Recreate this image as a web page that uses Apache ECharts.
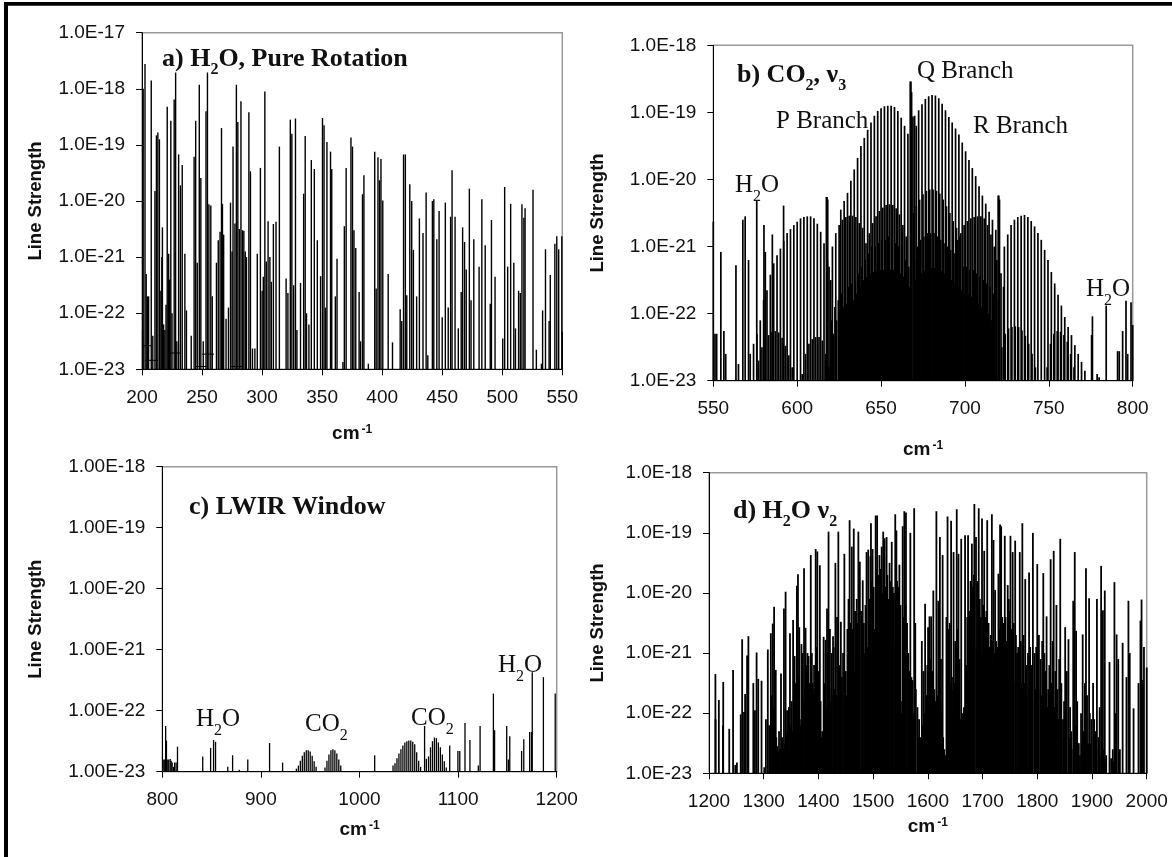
<!DOCTYPE html>
<html>
<head>
<meta charset="utf-8">
<title>Line strengths</title>
<style>
  html, body { margin: 0; padding: 0; background: #fff; }
  #chart { width: 1172px; height: 857px; }
</style>
<script src="https://cdn.jsdelivr.net/npm/echarts@6/dist/echarts.min.js"></script>
</head>
<body>
<div id="chart"></div>
<script>
// every line is [wavenumber cm-1, log10 of line strength]
var rotationLines = [
  [200.5,-22.3],[201,-18],[202.5,-17.56],[203.5,-21.3],[204.5,-21.7],[205.5,-21.7],[207.7,-17.85],[209,-22.4],[210.8,-19.82],[212,-18.83],[213.2,-18.78],[214.5,-18.9],[215.7,-21.6],[216.5,-21],[217,-20.47],[218,-22.2],[219,-22.3],[220,-21.85],[221,-18.32],[222.2,-20.94],[223,-21.4],[224,-18.57],[225,-22],[226.8,-18.19],[228,-17.71],[229,-22.5],[230.5,-19.17],[232,-19.72],[233.5,-19.36],[235.7,-20.94],[237,-21.95],
  [241,-22.4],[243.4,-19.21],[244.7,-18.57],[246,-21.1],[247.7,-17.93],[249,-19.59],[251,-22.5],[253.3,-18.4],[254.5,-17.71],[255.7,-20.06],[257.3,-20.08],[258.5,-21.7],
  [262,-21.1],[263.5,-20.7],[265,-20.55],[266.2,-18.7],[267,-20.05],[268,-20.6],[270,-22.1],[272,-21.9],[273.7,-20.03],[275,-20.9],[275.8,-19.03],[277.4,-20.4],[278.6,-17.93],[279.8,-18.59],[281,-20.5],[282.4,-18.22],[283.6,-20.52],[284.8,-20.53],[286,-20.9],[287,-21],[289,-18.42],[290.3,-19.47],[292,-22.63],[294,-22.63],[296,-20.94],
  [298.6,-19.41],[300,-21.6],[301,-21.35],[302.3,-18.05],[303.5,-21.08],[305,-20.36],[306.5,-21],[307.7,-21.44],[309.4,-20.41],[311.6,-20.37],[314.4,-19.03],[320,-21.38],[321.5,-21.64],[323.5,-18.55],[324.8,-18.8],[326.3,-21.5],[327.8,-18.53],[329,-22.3],[332,-21.46],[334.6,-19.87],[335.9,-18.84],[337,-22],[339,-22.2],[341,-19.27],[343.5,-19.43],[346,-20.7],[348.7,-21.34],[350.3,-18.52],[351.6,-18.65],[352.8,-21.9],[354,-18.95],[357,-19.12],[358,-19.43],[361,-21.7],[362.4,-21.03],
  [367.3,-22.87],[368.5,-20.45],[370,-19.41],[374,-18.87],[375.3,-19.03],[376.5,-20.52],[378,-20.84],[380.8,-21.62],[382,-22.5],[383.6,-19.88],[384.8,-19.54],[388.5,-22.9],[393.8,-19.12],[395,-21.56],[396.5,-19.22],[397.8,-19.63],[399,-19.25],[400.5,-19.99],[405,-21.3],[408.6,-22.52],
  [415,-21.93],[416.3,-22.14],[417.8,-19.17],[419.3,-19.17],[420.5,-21.68],[423,-19.7],[424.6,-20],[426,-20.87],[428.7,-21.7],[431,-20.31],[434,-20.57],[436.6,-19.85],[438,-22.75],[441.8,-20],[443,-19.97],[445.5,-20.68],[447.4,-20.18],[450,-22.07],[452.6,-20.03],[455,-21.9],[457,-20.28],[458.2,-19.45],[460.7,-20.28],[463.4,-22.27],[465.8,-21.62],[467,-20.47],[468.6,-20.73],[470,-21.22],[472.6,-19.78],[474,-21.77],[476.3,-20.68],[480.7,-21.17],[483,-19.97],[485.8,-20.79],[490,-21.83],[491,-20.34],[494,-21.35],
  [500.4,-22.45],[502,-19.75],[504.5,-21.17],[507,-20.05],[509.6,-21.1],[511,-22.27],[513.6,-21.6],[515,-21.64],[516.4,-20.06],[518,-20.3],[519,-20.13],[525.6,-19.8],[528.4,-22.65],[532.6,-22.9],[533.6,-21.95],[536,-20.86],[539,-22.14],[540,-21.32],[543.8,-20.76],[545.4,-20.63],[547,-20.86],[549.6,-20.63],[550,-22.33]
];
var rotationDashes = [
  [200.6,207.7,-22.58],[203,213.2,-22.84],[223,232.3,-22.71],[250,260,-22.73],[244.7,254,-22.95],[274,284.7,-22.95]
];
var co2Lines = [
  // isolated water lines
  [550,-20.63],[551,-22.3],[552,-22.3],[554.5,-21.08],[556.3,-22.26],[557.4,-22.6],[563.5,-21.28],[565,-22.75],[567.6,-20.6],[569,-20.55],[571,-21.2],[575.9,-20.31],[580.2,-20.68],[581,-21.08],[585.2,-20.82],[591.9,-20.39],
  [776,-22.04],[775.5,-22.32],[778.8,-22.9],[780,-22.95],[784.2,-21.88],[791,-22.56],[792,-22.56],[794,-22.26],[796,-21.81],[797,-22.6],[799,-21.83],[800,-22.17],
  // 606 hump
  [572,-22.6],[574,-22.45],[576,-22.3],[578,-22.1],[580,-21.8],[582,-21.65],[584,-21.42],[586,-21.25],[588,-21.13],[590,-21.03],[592,-20.92],[594,-20.8],[596,-20.74],[598,-20.68],[600,-20.63],[602,-20.58],[604,-20.56],[606,-20.55],[608,-20.55],[610,-20.58],[612,-20.66],[614,-20.78],[616,-20.95],[618,-21.2],[620,-21.5],
  [617.4,-20.26],[617.8,-20.26],[618.2,-20.3],
  // low humps on the left
  [577,-22.7],[579,-22.5],[581,-22.4],[583,-22.32],[585,-22.27],[587,-22.26],[589,-22.28],[591,-22.36],[593,-22.48],[595,-22.62],[597,-22.8],
  [603,-22.9],[605,-22.6],[607,-22.45],[609,-22.38],[611,-22.35],[613,-22.35],[615,-22.4],[617,-22.6],[619,-22.8],
  // main band, P, Q, R
  [626,-20.45],[628,-20.32],[630,-20.2],[632,-20.02],[634,-19.85],[636,-19.68],[638,-19.5],[640,-19.38],[642,-19.26],[644,-19.15],[646,-19.05],[648,-18.98],[650,-18.94],[652,-18.91],[654,-18.9],[656,-18.9],[658,-18.92],[660,-18.98],[662,-19.08],[664,-19.2],[666,-19.32],
  [667.4,-18.54],[667.8,-18.54],[668.2,-18.7],[669,-19.06],[670,-19.05],[671,-19.2],
  [672.4,-18.97],[674.4,-18.88],[676.4,-18.8],[678.4,-18.76],[680.4,-18.74],[682.4,-18.75],[684.4,-18.79],[686.4,-18.87],[688.4,-18.97],[690.4,-19.07],[692.4,-19.15],[694.4,-19.24],[696.4,-19.33],[698.4,-19.45],[700.4,-19.58],[702.4,-19.71],[704.4,-19.83],[706.4,-19.95],[708.4,-20.1],[710.4,-20.24],[712.4,-20.36],[714.4,-20.48],[716.4,-20.6],[718.4,-20.75],
  // hot bands
  [619,-21.3],[621,-21],[623,-20.8],[625,-20.68],[627,-20.6],[629,-20.56],[631,-20.54],[633,-20.54],[635,-20.56],[637,-20.65],[639,-20.72],
  [641,-20.95],[643,-20.8],[645,-20.65],[647,-20.55],[649,-20.47],[651,-20.42],[653,-20.38],[655,-20.37],[657,-20.38],[659,-20.43],[661,-20.52],[663,-20.68],[665,-20.85],
  [669.5,-20.5],[671,-20.4],[673,-20.3],[675,-20.22],[677,-20.17],[679,-20.15],[681,-20.15],[683,-20.17],[685,-20.21],[687,-20.3],[689,-20.4],[691,-20.5],[693,-20.62],[695,-20.72],[697,-20.85],
  [695.5,-20.9],[697.5,-20.8],[699.5,-20.68],[701.5,-20.62],[703.5,-20.58],[705.5,-20.56],[707.5,-20.55],[709.5,-20.55],[711.5,-20.58],[713.5,-20.68],[715.5,-20.82],[717.5,-21],[719,-21.2],[721.5,-21.4],[723,-21.6],
  [719.8,-20.24],[720.2,-20.24],[720.6,-20.3],
  [723.5,-21],[725.5,-20.82],[727.5,-20.68],[729.5,-20.6],[731.5,-20.56],[733.5,-20.54],[735.5,-20.53],[737.5,-20.56],[739.5,-20.62],[741.5,-20.7],[743.5,-20.8],[745.5,-20.9],[747.5,-21.05],[749.5,-21.2],[751.5,-21.38],[753.5,-21.55],[755.5,-21.72],[757.5,-21.88],[759.5,-22.05],[761.5,-22.2],[763.5,-22.32],[765.5,-22.47],[767.5,-22.6],[769.5,-22.72],[771.5,-22.85],
  // low humps on the right
  [722,-22.5],[724,-22.3],[726,-22.22],[728,-22.2],[730,-22.19],[732,-22.2],[734,-22.25],[736,-22.33],[738,-22.45],[740,-22.6],[742,-22.8],
  [749,-22.8],[751,-22.45],[753,-22.3],[755,-22.26],[757,-22.27],[759,-22.32],[761,-22.42],[763,-22.6],[765,-22.8],
  // solid block under the band
  [620.5,-22.1],[622.5,-21.9],[624.5,-21.8],[626.5,-21.7],[628.5,-21.6],[630.5,-21.6],[632.5,-21.55],[634.5,-21.5],[636.5,-21.4],[638.5,-21.3],[640.5,-21.2],[642.5,-21.1],[644.5,-21],[646.5,-21],[648.5,-20.95],[650.5,-20.9],[652.5,-20.9],[654.5,-20.85],[656.5,-20.9],[658.5,-20.95],[660.5,-21],[662.5,-21.1],[664.5,-21.2],[666.5,-21.3],[669.9,-21.2],[671.7,-21],[673.5,-20.9],[675.5,-20.85],[677.5,-20.8],[679.5,-20.8],[681.5,-20.8],[683.5,-20.85],[685.5,-20.9],[687.5,-20.95],[689.5,-21],[691.5,-21.05],[693.5,-21.1],[695,-21.2],[696.9,-21.25],[698.9,-21.3],[700.9,-21.3],[702.9,-21.35],[704.9,-21.35],[706.9,-21.4],[708.9,-21.45],[710.9,-21.5],[712.9,-21.55],[714.9,-21.6],[716.9,-21.7],[718.9,-21.8],
  [621.5,-22.3],[623.5,-22.1],[625.5,-22],[627.5,-21.9],[629.5,-21.85],[631.5,-21.8],[633.5,-21.8],[635.5,-21.7],[637.5,-21.6],[639.5,-21.5],[641.5,-21.45],[643.5,-21.4],[645.5,-21.38],[647.5,-21.36],[649.5,-21.35],[651.5,-21.35],[653.5,-21.35],[655.5,-21.35],[657.5,-21.35],[659.5,-21.36],[661.5,-21.4],[663.5,-21.45],[665.5,-21.5],[667,-21.6],[670.5,-21.5],[672,-21.45],[674,-21.4],[676,-21.36],[678,-21.34],[680,-21.32],[682,-21.32],[684,-21.34],[686,-21.36],[688,-21.4],[690,-21.45],[692,-21.5],[694,-21.55],[696,-21.6],[698,-21.65],[700,-21.7],[702,-21.72],[704,-21.75],[706,-21.8],[708,-21.85],[710,-21.9],[712,-21.95],[714,-22],[716,-22.1],[718,-22.2]
];
var windowLines = [
  [801.5,-22.8],[802.5,-22.8],[803.4,-22.25],[804.2,-22.49],[805,-22.8],[806.5,-22.8],[808,-22.79],[809,-22.82],[810,-22.85],[811.5,-22.92],[812.5,-22.85],[814,-22.85],[815.4,-22.59],
  [841,-22.75],[849,-22.61],[852,-22.48],[854,-22.51],[866.4,-22.92],[871.3,-22.73],[878,-22.97],[886.7,-22.8],[908.8,-22.53],[922,-22.85],
  [936,-22.95],[938,-22.9],[940,-22.82],[942,-22.74],[944,-22.68],[946,-22.65],[948,-22.65],[950,-22.67],[952,-22.74],[954,-22.83],[956,-22.92],
  [965,-22.93],[967,-22.82],[969,-22.72],[971,-22.65],[973,-22.63],[975,-22.65],[977,-22.7],[979,-22.8],[981,-22.9],
  [1015.4,-22.73],
  [1034,-22.9],[1036,-22.86],[1038,-22.78],[1040,-22.7],[1042,-22.63],[1044,-22.57],[1046,-22.52],[1048,-22.5],[1050,-22.49],[1052,-22.49],[1054,-22.51],[1056,-22.55],[1058,-22.68],[1060,-22.82],[1062,-22.92],
  [1066,-22.25],[1067.8,-22.79],
  [1070,-22.75],[1072,-22.6],[1074,-22.5],[1076,-22.44],[1078,-22.45],[1080,-22.52],[1082,-22.6],[1084,-22.72],[1086,-22.83],[1088,-22.93],
  [1091.5,-22.57],[1099.8,-22.66],[1101.7,-22.66],[1107,-22.2],[1112,-22.48],[1120.5,-22.9],[1122.3,-22.25],[1135.8,-21.72],[1137,-22.32],[1149.3,-22.25],[1151,-22.8],[1152.4,-22.42],[1164.4,-22.66],[1166.6,-22.47],[1172.6,-22.35],[1174.5,-22.35],[1175.2,-21.37],[1186.5,-21.45],[1198.5,-21.72]
];
var bendLines = [
  // tall lines
  [1211.7,-21.35],[1212,-22.1],[1218,-21.78],[1226,-21.48],[1225.5,-22.2],[1237,-22.26],[1244,-21.28],[1248,-22.86],[1251,-22.82],
  [1258,-22.02],[1260.6,-20.77],[1264,-21.98],[1266,-21.68],[1269.6,-21.04],[1272,-20.72],[1281,-21.5],[1284,-21.95],[1287,-20.99],[1290,-21.43],[1296,-21.46],
  [1304,-22.1],[1307.5,-20.94],[1313,-20.67],[1316.5,-20.51],[1319,-20.23],[1322,-21.28],[1328,-22.3],[1331.6,-21.34],[1337,-20.26],[1340,-19.98],[1342.7,-21.95],[1348,-20.67],[1353.7,-20.45],[1356.5,-21.05],[1360.6,-19.88],[1362.6,-19.69],[1365,-20.57],[1369,-20.85],[1373.7,-19.59],[1376.5,-20.58],[1382,-21.05],[1386,-19.37],[1389.5,-21.5],[1395,-19.27],[1398,-19.31],[1402.6,-19.54],[1409.5,-20.73],[1413,-20.78],[1415.7,-20.26],[1418.5,-18.98],[1426.7,-20.72],[1431,-19.5],[1436.4,-18.98],[1441,-20.48],[1447.4,-19.35],[1457,-18.79],[1461,-19.23],[1464.6,-18.93],[1470,-20.1],[1473,-18.98],[1475.7,-19.48],[1481,-19.79],[1488,-19.32],[1491,-19.28],[1495,-19.39],[1499,-19.27],[1496,-18.84],[1504.6,-18.71],[1507.3,-18.71],[1511.5,-19.37],[1515.6,-19.23],[1518.4,-18.98],[1521,-19.09],[1524.6,-19.07],[1530,-19.5],[1534,-19.15],[1540.4,-18.69],[1542.5,-18.96],[1548,-19.53],[1554,-18.89],[1557,-18.64],[1560,-18.66],[1568,-19],[1575,-18.59],[1577,-20.5],
  [1589,-20.8],[1595,-20.18],[1600.4,-20.57],[1603,-20.39],[1606,-20.39],[1610,-19.96],[1615.6,-18.64],[1622,-19.07],[1619,-20.13],[1627,-19.37],[1636,-18.73],[1642.5,-18.8],[1647,-19.32],[1652.8,-18.61],[1656,-19.35],[1661,-19.1],[1668,-19.04],[1673.5,-19.04],[1680.5,-19.18],[1685,-18.52],[1688,-19.07],[1693,-18.59],[1699,-18.76],[1703,-19.3],[1708.5,-18.79],[1717,-18.69],[1720,-19.12],[1723,-19.95],[1729,-19.68],[1732,-18.86],[1734,-18.89],[1740.6,-19.05],[1746,-19.87],[1751,-19.05],[1755,-19.32],[1759.6,-19.13],[1768,-19.32],[1772.7,-18.84],[1778,-19.77],[1785,-19.66],[1792,-19],[1800,-19.52],[1811,-19.67],[1817,-20.39],[1824.4,-19.44],[1830,-19.3],[1835,-20.2],[1842,-19.1],[1851,-20.57],[1857,-20.77],[1865.7,-20.13],[1868.5,-19.32],[1871,-20.63],[1883,-20.69],[1889,-19.59],[1894.7,-20.09],[1909,-20.1],[1916.7,-19.55],[1920,-20.29],[1923.4,-19.96],[1932,-21.15],[1941,-19.82],[1945,-20.69],[1956,-20.83],[1966.6,-20.13],[1976,-21.92],[1988.6,-20.46],[1990.6,-20.11],[1993,-21.45],[2000,-21.24],
  // shorter lines filling the band
  [1301,-22.9],[1310,-22.2],[1315,-21.7],[1318,-21.9],[1321,-22.5],[1325,-22.55],[1330,-22.6],[1334,-22.4],[1339,-22.5],[1344,-22.3],[1346,-21.9],[1351,-21.8],[1355,-22.1],[1358,-21.5],[1364,-21.4],[1367,-22.2],[1371,-21],[1375,-21.6],[1378,-21.2],[1380,-21],[1384,-21.5],[1388,-21],[1392,-21.2],[1396,-20.9],[1400,-21.3],[1404,-21.8],[1407,-22.3],[1411,-21.5],[1417,-21],[1421,-20.6],[1424,-21],[1428,-20.9],[1434,-20.4],[1438,-21.2],[1443,-21.4],[1445,-21],[1450,-21.3],[1453,-20.6],[1455,-20.1],[1459,-20.5],[1463,-20.6],[1467,-20.3],[1472,-20.5],[1478,-20.3],[1483,-20.5],[1486,-20.2],[1493,-20.1],[1498,-19.8],[1501,-19.9],[1506,-19.6],[1509,-19.7],[1513,-19.6],[1517,-20],[1520,-19.8],[1523,-19.9],[1526,-19.7],[1528,-20.1],[1532,-19.8],[1536,-19.9],[1538,-20],[1544,-19.8],[1546,-19.9],[1550,-20.2],[1552,-22],[1556,-20.4],[1559,-20.2],[1562,-20.5],[1564,-21],[1566,-21.3],[1570,-21.4],[1572,-21.45],[1578,-21.6],[1581,-21.9],[1584,-22.1],[1587,-22.4],[1592,-21.3],[1594,-22],[1597,-21.7],[1599,-21.2],[1602,-21],[1605,-21.1],[1608,-21.3],[1612,-21.6],[1614,-21.8],[1617,-21.7],[1620,-21.4],[1624,-21.1],[1626,-22],[1630,-22.6],[1634,-20.4],[1638,-20.6],[1640,-20.5],[1644,-21.6],[1646,-21.4],[1650,-20.8],[1654,-20.6],[1658,-21.1],[1660,-22.1],[1664,-22],[1666,-21.9],[1670,-21.2],[1672,-20.4],[1676,-20.3],[1678,-19.8],[1682,-19.9],[1684,-19.7],[1690,-19.8],[1695,-20.1],[1697,-20.4],[1701,-20.2],[1705,-20.4],[1707,-20.3],[1711,-20.5],[1713,-20.9],[1715,-20.7],[1719,-20.8],[1722,-21],[1725,-20.8],[1727,-20.9],[1731,-20.6],[1736,-20.4],[1738,-20.5],[1742,-20.4],[1744,-20.8],[1748,-20.1],[1750,-20.3],[1753,-20.6],[1757,-20.5],[1761,-20.7],[1763,-21],[1765,-20.9],[1770,-20.8],[1775,-20.7],[1780,-21.2],[1783,-21],[1787,-20.9],[1790,-21.2],[1795,-21],[1798,-20.9],[1803,-20.7],[1806,-21.1],[1809,-20.8],[1813,-21],[1815,-21.3],[1820,-21.6],[1822,-21.2],[1826,-21.5],[1828,-20.8],[1833,-21.3],[1837,-21.6],[1840,-21.1],[1844,-21.5],[1847,-22.1],[1849,-21.8],[1854,-21.3],[1860,-21.9],[1862,-22.3],[1867,-21.1],[1873,-21.8],[1876,-22.5],[1880,-22],[1885,-22.3],[1887,-21.5],[1891,-21.7],[1896,-22],[1899,-22.1],[1902,-21.5],[1904,-22.1],[1906,-22.3],[1912,-22.4],[1914,-21.9],[1918,-22.5],[1922,-22.6],[1926,-22.7],[1935,-22.75],[1938,-22.6],[1943,-22],[1948,-21.1],[1951,-22.6],[1963,-21.4],[1969,-21],[1985,-21.5],[1995,-20.9],
  // low block near the baseline
  [1312,-22.7],[1323,-22.4],[1327,-22.65],[1333,-22.5],[1336,-22.6],[1341,-22.35],[1349,-22.2],[1352,-22.3],[1360,-21.9],[1366,-22.1],[1370,-21.9],[1374,-21.8],[1377,-21.9],[1383,-21.7],[1387,-21.9],[1391,-21.6],[1394,-21.7],[1399,-21.8],[1403,-22],[1406,-22.4],[1410,-22],[1414,-21.9],[1420,-21.6],[1423,-21.8],[1427,-21.7],[1430,-21.6],[1433,-21.7],[1437,-21.7],[1440,-21.8],[1442,-21.7],[1448,-21.8],[1451,-21.7],[1456,-21.3],[1460,-21.4],[1465,-21.3],[1469,-21.1],[1471,-21.3],[1475,-21.1],[1480,-21],[1485,-21],[1490,-20.9],[1494,-20.8],[1503,-20.6],[1510,-20.7],[1515,-20.6],[1519,-20.7],[1525,-20.6],[1529,-20.7],[1533,-20.8],[1537,-20.8],[1541,-20.8],[1547,-20.9],[1553,-21.8],[1558,-21.1],[1565,-21.9],[1574,-22],[1583,-22.4],[1591,-22.2],[1596,-22.1],[1601,-21.9],[1607,-21.8],[1611,-22.1],[1616,-22.2],[1623,-21.8],[1628,-22.4],[1632,-22.7],[1637,-21.6],[1641,-21.5],[1645,-22],[1649,-21.5],[1655,-21.4],[1659,-22.3],[1663,-22.3],[1667,-22.1],[1671,-21.7],[1675,-21.4],[1679,-21],[1683,-20.8],[1689,-20.9],[1694,-21],[1698,-21],[1702,-21.1],[1706,-21.1],[1710,-21.2],[1714,-21.3],[1718,-21.3],[1724,-21.4],[1728,-21.4],[1733,-21.5],[1737,-21.3],[1741,-21.4],[1747,-21.2],[1752,-21.3],[1756,-21.4],[1760,-21.5],[1766,-21.6],[1771,-21.5],[1776,-21.5],[1781,-21.7],[1786,-21.6],[1791,-21.8],[1796,-21.6],[1802,-21.6],[1807,-21.7],[1812,-21.7],[1818,-21.9],[1823,-22],[1827,-22],[1832,-21.9],[1838,-22.1],[1843,-22.1],[1848,-22.4],[1853,-22.1],[1858,-22.4],[1863,-22.6],[1869,-22.2],[1874,-22.5],[1878,-22.7],[1882,-22.5],[1888,-22.4],[1893,-22.5],[1898,-22.5],[1903,-22.4],[1908,-22.6],[1913,-22.7],[1917,-22.7],[1921,-22.7],[1925,-22.8],[1940,-22.8],[1944,-22.7]
];

var tickFontFamily = 'Liberation Sans';
var serifFontFamily = 'Liberation Serif';

function makeRenderLine(width) {
  return function (params, api) {
    var bottom = api.coord([api.value(0), -23]);
    var top = api.coord([api.value(0), api.value(1)]);
    return {
      type: 'line',
      shape: { x1: bottom[0], y1: bottom[1], x2: top[0], y2: top[1] },
      style: { stroke: '#000', lineWidth: width }
    };
  };
}

function renderDash(params, api) {
  var left = api.coord([api.value(0), api.value(2)]);
  var right = api.coord([api.value(1), api.value(2)]);
  return {
    type: 'line',
    shape: { x1: left[0], y1: left[1], x2: right[0], y2: right[1] },
    style: { stroke: '#000', lineWidth: 1 }
  };
}

function makeGrid(left, top, right, bottom) {
  return {
    left: left, top: top, width: right - left, height: bottom - top,
    show: true, borderColor: '#999', borderWidth: 1.5, backgroundColor: '#fff'
  };
}

function makeXAxis(i, min, max, interval, gap) {
  return {
    type: 'value', gridIndex: i, min: min, max: max, interval: interval,
    name: '{b|cm}{u|-1}', nameLocation: 'middle', nameGap: gap,
    nameTextStyle: {
      rich: {
        b: { fontFamily: tickFontFamily, fontWeight: 'bold', fontSize: 19, verticalAlign: 'bottom', color: '#111' },
        u: { fontFamily: tickFontFamily, fontWeight: 'bold', fontSize: 12, verticalAlign: 'top', padding: [0, 0, 8, 2], color: '#111' }
      }
    },
    splitLine: { show: false },
    axisLine: { onZero: false, lineStyle: { color: '#000', width: 1 } },
    axisTick: { length: 6, lineStyle: { color: '#000' } },
    axisLabel: {
      color: '#111', fontFamily: tickFontFamily, fontSize: 19, margin: 19,
      formatter: function (v) { return String(v); }
    }
  };
}

// y is the exponent of the line strength, so the scale runs in decades
function makeYAxis(i, top, prefix, gap) {
  return {
    type: 'value', gridIndex: i, min: -23, max: top, interval: 1,
    name: 'Line Strength', nameLocation: 'middle', nameGap: gap, nameRotate: 90,
    nameTextStyle: { color: '#111', fontFamily: tickFontFamily, fontWeight: 'bold', fontSize: 18.5 },
    splitLine: { show: false },
    axisLine: { onZero: false, lineStyle: { color: '#000', width: 1 } },
    axisTick: { length: 6, lineStyle: { color: '#000' } },
    axisLabel: {
      color: '#111', fontFamily: tickFontFamily, fontSize: 19, margin: 17,
      formatter: function (v) { return prefix + v; }
    }
  };
}

function lineSeries(i, lines, width) {
  return {
    type: 'custom', xAxisIndex: i, yAxisIndex: i, silent: true, animation: false,
    renderItem: makeRenderLine(width), data: lines, clip: false
  };
}

// text on top of the plots, parts is rich text
var richStyles = {
  n: { fontFamily: serifFontFamily, fontSize: 25, lineHeight: 26, verticalAlign: 'top', fill: '#111' },
  s: { fontFamily: serifFontFamily, fontSize: 16, lineHeight: 32, verticalAlign: 'bottom', fill: '#111' },
  bn: { fontFamily: serifFontFamily, fontWeight: 'bold', fontSize: 26, lineHeight: 26, verticalAlign: 'top', fill: '#111' },
  bs: { fontFamily: serifFontFamily, fontWeight: 'bold', fontSize: 16, lineHeight: 32, verticalAlign: 'bottom', fill: '#111' }
};
function note(x, y, parts) {
  return {
    type: 'text', x: x, y: y, z: 20, silent: true,
    style: { text: parts, rich: richStyles, verticalAlign: 'middle', align: 'left' }
  };
}

var notes = [
  note(162, 62, '{bn|a) H}{bs|2}{bn|O, Pure Rotation}'),
  note(737, 78, '{bn|b) CO}{bs|2}{bn|, \u03bd}{bs|3}'),
  note(917, 72, '{n|Q Branch}'),
  note(776, 122, '{n|P Branch}'),
  note(973, 127, '{n|R Branch}'),
  note(735, 189, '{n|H}{s|2}{n|O}'),
  note(1086, 293, '{n|H}{s|2}{n|O}'),
  note(189, 507, '{bn|c) LWIR Window}'),
  note(196, 723, '{n|H}{s|2}{n|O}'),
  note(305, 728, '{n|CO}{s|2}'),
  note(411, 722, '{n|CO}{s|2}'),
  note(498, 669, '{n|H}{s|2}{n|O}'),
  note(733, 514, '{bn|d) H}{bs|2}{bn|O \u03bd}{bs|2}')
];

var chart = echarts.init(document.getElementById('chart'));
chart.setOption({
  animation: false,
  backgroundColor: '#fff',
  grid: [
    makeGrid(142, 32.7, 562.3, 369.3),
    makeGrid(713.3, 45.3, 1132.7, 380.7),
    makeGrid(162.3, 466.7, 556.7, 771.7),
    makeGrid(709, 472.7, 1146.7, 773.3)
  ],
  xAxis: [
    makeXAxis(0, 200, 550, 50, 54),
    makeXAxis(1, 550, 800, 50, 59),
    makeXAxis(2, 800, 1200, 100, 48),
    makeXAxis(3, 1200, 2000, 100, 43)
  ],
  yAxis: [
    makeYAxis(0, -17, '1.0E', 97),
    makeYAxis(1, -18, '1.0E', 106),
    makeYAxis(2, -18, '1.00E', 117),
    makeYAxis(3, -18, '1.0E', 102)
  ],
  series: [
    lineSeries(0, rotationLines, 1.4),
    {
      type: 'custom', xAxisIndex: 0, yAxisIndex: 0, silent: true, animation: false,
      renderItem: renderDash, data: rotationDashes, encode: { x: [0, 1], y: 2 }, clip: false
    },
    lineSeries(1, co2Lines, 1.7),
    lineSeries(2, windowLines, 1.3),
    lineSeries(3, bendLines, 1.8)
  ],
  graphic: [
    { type: 'rect', shape: { x: 4, y: 2, width: 4, height: 855 }, style: { fill: '#000' }, silent: true },
    { type: 'rect', shape: { x: 4, y: 2, width: 1168, height: 3.7 }, style: { fill: '#000' }, silent: true }
  ].concat(notes)
});
</script>
</body>
</html>
